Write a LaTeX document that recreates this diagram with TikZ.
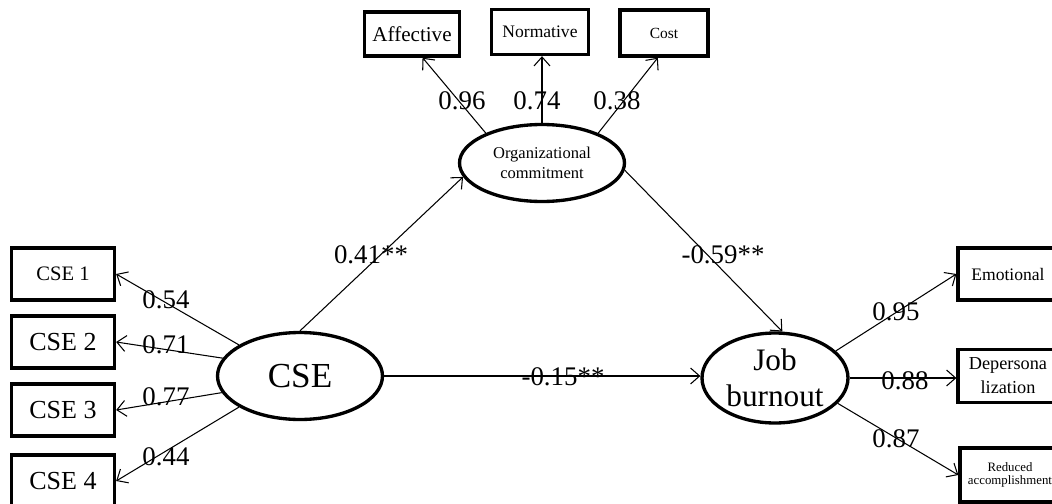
\documentclass[tikz,border=0pt]{standalone}
\usepackage{fontspec}
\setmainfont{Liberation Serif}
\usetikzlibrary{shapes.geometric,arrows.meta}
\newcommand{\fs}[2]{\fontsize{#1}{#2}\selectfont}
\tikzset{
  ind/.style={draw, line width=1.9pt, minimum width=2.06cm, minimum height=1.04cm, inner sep=0pt, align=center},
  lat/.style={draw, ellipse, line width=1.9pt, inner sep=0pt, align=center},
  load/.style={-{Straight Barb[length=1.8mm,width=3.2mm]}, line width=0.6pt},
  coef/.style={font=\fs{15.3}{18}, inner sep=0pt},
}
\begin{document}
\begin{tikzpicture}[x=0.02cm, y=-0.02cm]
\useasboundingbox (0,0) rectangle (1052,504);
% latent variables
\node[lat, minimum width=3.3cm, minimum height=1.54cm, font=\fs{9.4}{11}] (org) at (542,163) {Organizational\\commitment};
\node[lat, minimum width=3.3cm, minimum height=1.74cm, font=\fs{20}{24}] (cse) at (300,376) {CSE};
\node[lat, minimum width=2.92cm, minimum height=1.8cm, font=\fs{17.8}{20.8}] (jb) at (775,378) {Job\\burnout};
% indicators
\node[ind, minimum width=1.9cm, minimum height=0.88cm, font=\fs{12}{14}] (aff) at (412,34) {Affective};
\node[ind, minimum width=1.94cm, minimum height=0.9cm, font=\fs{10}{12}] (nor) at (540,32) {Normative};
\node[ind, minimum width=1.76cm, minimum height=0.92cm, font=\fs{8.8}{10}] (cost) at (664,33) {Cost};
\node[ind, font=\fs{11.7}{14}] (c1) at (63,274) {CSE 1};
\node[ind, font=\fs{14.8}{17}] (c2) at (63,342) {CSE 2};
\node[ind, font=\fs{14.8}{17}] (c3) at (63,410) {CSE 3};
\node[ind, font=\fs{14.8}{17}] (c4) at (63,481) {CSE 4};
\node[ind, minimum width=2cm, font=\fs{10}{12}] (emo) at (1008,274) {Emotional};
\node[ind, minimum width=2cm, minimum height=1.06cm, font=\fs{10.4}{13.6}] (dep) at (1008,376) {Depersona\\lization};
\node[ind, minimum width=2cm, minimum height=1.08cm, font=\fs{7.3}{7.8}] (red) at (1010,475) {Reduced\\accomplishment};
% paths
\draw[load] (org.152) -- (aff.294);
\draw[load] (org.north) -- (org.north |- nor.south);
\draw[load] (org.28) -- (cost.256);
\draw[load] (cse.north) -- (org.190);
\draw[load] (org.355) -- (jb.81);
\draw[load] (cse.east) -- (cse.east -| jb.west);
\draw[load] (cse.153) -- (c1.east);
\draw[load] (cse.167) -- (c2.east);
\draw[load] (cse.192) -- (c3.east);
\draw[load] (cse.207) -- (c4.east);
\draw[load] (jb.24) -- (emo.west);
\draw[load] (jb.east) -- (jb.east -| dep.west);
\draw[load] (jb.338) -- (red.west);
% coefficients
\node[coef] (l96) at (462,101) {0.96};
\node[coef] (l74) at (537,101) {0.74};
\node[coef] (l38) at (617,101) {0.38};
\node[coef] (l41) at (371,255) {0.41**};
\node[coef] (l59) at (723,255) {-0.59**};
\node[coef] (l15) at (563,377) {-0.15**};
\node[coef] (l54) at (166,300) {0.54};
\node[coef] (l71) at (166,345) {0.71};
\node[coef] (l77) at (166,397) {0.77};
\node[coef] (l44) at (166,457) {0.44};
\node[coef] (l95) at (896,312) {0.95};
\node[coef] (l88) at (905,381) {0.88};
\node[coef] (l87) at (896,439) {0.87};
\end{tikzpicture}
\end{document}
